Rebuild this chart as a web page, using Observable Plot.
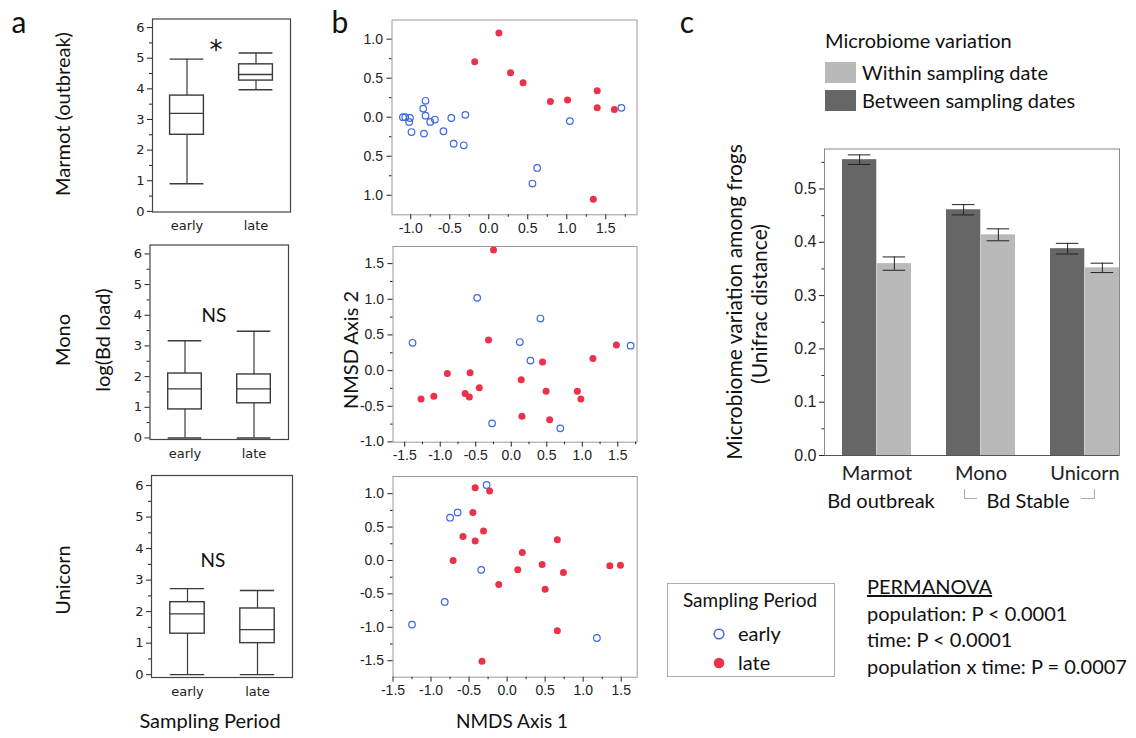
<!DOCTYPE html>
<html><head><meta charset="utf-8">
<script src="https://cdn.jsdelivr.net/npm/d3@7"></script>
<script src="https://cdn.jsdelivr.net/npm/@observablehq/plot@0.6"></script>
<style>
body{margin:0;background:#fff;}
#fig{position:relative;width:1136px;height:738px;overflow:hidden;background:#fff;color:#111;}
.t{position:absolute;white-space:nowrap;line-height:1;}
</style></head><body><div id="fig"></div>
<script>
// ---------- DATA ----------
// Panel a: box plot summaries [low whisker, Q1, median, Q3, high whisker] for early, late
const periods = ["early", "late"];
const marmotBox = [[0.9, 2.5, 3.2, 3.78, 4.97], [3.97, 4.27, 4.47, 4.8, 5.17]];
const monoBox = [[0, 0.93, 1.6, 2.1, 3.17], [0, 1.13, 1.6, 2.07, 3.48]];
const unicornBox = [[0, 1.3, 1.93, 2.3, 2.73], [0, 1.0, 1.43, 2.1, 2.67]];
const boxTicks = [0, 1, 2, 3, 4, 5, 6];
const boxMinorTicks = [0.5, 1.5, 2.5, 3.5, 4.5, 5.5];

// Panel b: NMDS coordinates [axis1, axis2]
const marmotEarly = [[-1.10,0.00],[-1.07,0.00],[-1.01,-0.01],[-1.02,-0.06],[-0.99,-0.19],[-0.84,0.11],[-0.81,0.21],[-0.81,0.02],[-0.83,-0.21],[-0.75,-0.06],[-0.69,-0.03],[-0.58,-0.18],[-0.48,-0.01],[-0.45,-0.34],[-0.32,-0.36],[-0.30,0.03],[0.62,-0.65],[0.56,-0.85],[1.04,-0.05],[1.70,0.12]];
const marmotLate = [[0.13,1.08],[-0.18,0.71],[0.28,0.57],[0.44,0.44],[0.79,0.20],[1.01,0.22],[1.39,0.34],[1.39,0.12],[1.61,0.10],[1.34,-1.05]];
const monoEarly = [[-1.39,0.39],[-0.48,1.02],[0.12,0.40],[0.41,0.73],[0.27,0.14],[1.68,0.35],[-0.27,-0.74],[0.69,-0.81]];
const monoLate = [[-0.25,1.69],[-0.32,0.43],[-0.90,-0.04],[-0.58,-0.03],[-1.27,-0.40],[-1.09,-0.36],[-0.65,-0.32],[-0.59,-0.37],[-0.45,-0.24],[0.14,-0.13],[0.44,0.12],[0.49,-0.29],[0.15,-0.64],[0.54,-0.69],[0.93,-0.29],[0.98,-0.40],[1.15,0.17],[1.48,0.36]];
const unicornEarly = [[-0.27,1.13],[-0.65,0.72],[-0.75,0.64],[-0.34,-0.14],[-0.82,-0.62],[-1.25,-0.96],[1.18,-1.16]];
const unicornLate = [[-0.42,1.09],[-0.23,1.04],[-0.45,0.72],[-0.31,0.44],[-0.58,0.36],[-0.42,0.29],[-0.71,0.00],[-0.11,-0.36],[0.14,-0.14],[0.20,0.12],[0.46,-0.06],[0.50,-0.43],[0.66,0.31],[0.74,-0.18],[0.66,-1.05],[1.35,-0.08],[1.49,-0.07],[-0.33,-1.51]];
const nmdsTicksA = [-1.0, -0.5, 0, 0.5, 1.0, 1.5];
const nmdsTicksB = [-1.5, -1.0, -0.5, 0, 0.5, 1.0, 1.5];
const nmdsMinorA = [-1.25, -0.75, -0.25, 0.25, 0.75, 1.25, 1.75];
const nmdsMinorB = [-1.75, -1.25, -0.75, -0.25, 0.25, 0.75, 1.25, 1.75];
const nmdsY1Ticks = [-1.0, -0.5, 0, 0.5, 1.0];
const nmdsY2Ticks = [-1.0, -0.5, 0, 0.5, 1.0, 1.5];
const nmdsY3Ticks = [-1.5, -1.0, -0.5, 0, 0.5, 1.0];

// Panel c: mean Unifrac distance and SE
const populations = ["Marmot", "Mono", "Unicorn"];
const betweenMean = [0.555, 0.461, 0.388];
const betweenErr = [0.009, 0.0097, 0.010];
const withinMean = [0.360, 0.414, 0.352];
const withinErr = [0.0125, 0.0112, 0.0088];
const barTicks = [0, 0.1, 0.2, 0.3, 0.4, 0.5];
const barMinorTicks = [0.05, 0.15, 0.25, 0.35, 0.45, 0.55];

// ---------- LAYOUT ----------
const W = 1136, H = 738;
const fig = document.getElementById("fig");

function place(opts, [L, R, T, B], style) {
  const svg = Plot.plot({
    width: W, height: H,
    marginLeft: L, marginRight: W - R, marginTop: T, marginBottom: H - B,
    style: Object.assign({background: "transparent", overflow: "visible"}, style),
    ...opts
  });
  svg.style.position = "absolute";
  svg.style.left = "0px";
  svg.style.top = "0px";
  fig.appendChild(svg);
}

function txt(s, x, y, o = {}) {
  const d = document.createElement("div");
  d.className = "t";
  d.textContent = s;
  d.style.fontSize = (o.size || 20) + "px";
  d.style.fontFamily = o.family || "Lato, sans-serif";
  d.style.left = x + "px";
  d.style.top = y + "px";
  if (o.weight) d.style.fontWeight = o.weight;
  if (o.underline) d.style.textDecoration = "underline";
  const ax = o.anchor === "start" ? "0" : "-50%";
  d.style.transform = `translate(${ax},-50%)` + (o.rotate ? " rotate(-90deg)" : "");
  fig.appendChild(d);
  return d;
}

// ---------- PANEL A ----------
function boxPanel(stats, frame, ydom, inset) {
  const rows = periods.map((p, i) => ({period: p, low: stats[i][0], q1: stats[i][1], med: stats[i][2], q3: stats[i][3], high: stats[i][4]}));
  const s = "#3a3a3a";
  const ins = {insetLeft: inset, insetRight: inset};
  place({
    x: {domain: periods, padding: 0},
    y: {domain: ydom},
    marks: [
      Plot.frame({stroke: "#444", strokeWidth: 1.2}),
      Plot.ruleX(rows, {x: "period", y1: "low", y2: "high", stroke: s, strokeWidth: 1.2}),
      Plot.tickY(rows, {x: "period", y: "low", ...ins, stroke: s, strokeWidth: 1.4}),
      Plot.tickY(rows, {x: "period", y: "high", ...ins, stroke: s, strokeWidth: 1.4}),
      Plot.barY(rows, {x: "period", y1: "q1", y2: "q3", ...ins, fill: "white", stroke: s, strokeWidth: 1.4}),
      Plot.tickY(rows, {x: "period", y: "med", ...ins, stroke: s, strokeWidth: 1.4}),
      Plot.axisY({ticks: boxTicks, tickSize: 5, tickPadding: 3, tickFormat: d => String(d), label: null}),
      Plot.axisY({ticks: boxMinorTicks, tickSize: 3, tickFormat: () => "", label: null}),
      Plot.axisX({tickSize: 0, tickPadding: 9, label: null})
    ]
  }, frame, {fontFamily: "'DejaVu Sans', sans-serif", fontSize: "13px", color: "#222"});
}
boxPanel(marmotBox, [152, 290, 18.5, 211.5], [-0.02, 6.28], 17.6);
boxPanel(monoBox, [149.5, 288, 244.5, 439], [-0.05, 6.29], 17.7);
boxPanel(unicornBox, [151, 292, 475, 677], [-0.09, 6.32], 17.8);

// ---------- PANEL B ----------
const fmt1 = d => d.toFixed(1);
function scatter(early, late, frame, xdom, ydom, xt, xm, yt, ym, yfmt) {
  place({
    x: {domain: xdom},
    y: {domain: ydom},
    marks: [
      Plot.frame({stroke: "#9a9a9a"}),
      Plot.dot(late, {x: d => d[0], y: d => d[1], r: 3.5, fill: "#ec3249", stroke: "none"}),
      Plot.dot(early, {x: d => d[0], y: d => d[1], r: 3.3, fill: "none", stroke: "#3d67e6", strokeWidth: 1.2}),
      Plot.axisX({ticks: xt, tickSize: 5, tickPadding: 3, tickFormat: fmt1, label: null}),
      Plot.axisX({ticks: xm, tickSize: 2.5, tickFormat: () => "", label: null}),
      Plot.axisY({ticks: yt, tickSize: 5, tickPadding: 4, tickFormat: yfmt, label: null}),
      Plot.axisY({ticks: ym, tickSize: 2.5, tickFormat: () => "", label: null})
    ]
  }, frame, {fontFamily: "'Liberation Sans', Arial, sans-serif", fontSize: "14px", color: "#222"});
}
scatter(marmotEarly, marmotLate, [391.5, 636.5, 19.5, 214.3], [-1.24, 1.90], [-1.25, 1.245],
  nmdsTicksA, nmdsMinorA.filter(v => v > -1.24 && v < 1.9), nmdsY1Ticks, [-0.75, -0.25, 0.25, 0.75], d => Math.abs(d).toFixed(1));
scatter(monoEarly, monoLate, [392.5, 636.5, 246, 441.7], [-1.665, 1.77], [-1.004, 1.74],
  nmdsTicksB, nmdsMinorB.filter(v => v > -1.665 && v < 1.77), nmdsY2Ticks, [-0.75, -0.25, 0.25, 0.75, 1.25], fmt1);
scatter(unicornEarly, unicornLate, [392.5, 636.7, 476, 676.7], [-1.5, 1.71], [-1.747, 1.257],
  nmdsTicksB, nmdsMinorB.filter(v => v > -1.5 && v < 1.71), nmdsY3Ticks, [-1.25, -0.75, -0.25, 0.25, 0.75], fmt1);

// ---------- PANEL C ----------
const cFrame = [824, 1119, 148.5, 455];
const pIn = 0.335, pOut = 0.08;
const step = (cFrame[1] - cFrame[0]) / (populations.length - pIn + 2 * pOut);
const bw = step * (1 - pIn);
const cap = 23;
const between = populations.map((g, i) => ({group: g, mean: betweenMean[i], err: betweenErr[i]}));
const within = populations.map((g, i) => ({group: g, mean: withinMean[i], err: withinErr[i]}));
const errMarks = (rows, side) => {
  const c = side < 0 ? bw / 4 : 3 * bw / 4;
  const ins = {insetLeft: c - cap / 2, insetRight: bw - c - cap / 2};
  return [
    Plot.ruleX(rows, {x: "group", y1: d => d.mean - d.err, y2: d => d.mean + d.err, dx: side * bw / 4, stroke: "#222", strokeWidth: 1}),
    Plot.tickY(rows, {x: "group", y: d => d.mean - d.err, ...ins, stroke: "#222", strokeWidth: 1}),
    Plot.tickY(rows, {x: "group", y: d => d.mean + d.err, ...ins, stroke: "#222", strokeWidth: 1})
  ];
};
place({
  x: {domain: populations, paddingInner: pIn, paddingOuter: pOut, align: 1},
  y: {domain: [0, 0.575]},
  marks: [
    Plot.barY(between, {x: "group", y: "mean", insetRight: bw / 2, fill: "#666666"}),
    Plot.barY(within, {x: "group", y: "mean", insetLeft: bw / 2, fill: "#b9b9b9"}),
    ...errMarks(between, -1),
    ...errMarks(within, 1),
    Plot.frame({stroke: "#8a8a8a"}),
    Plot.ruleY([0], {stroke: "#555"}),
    Plot.axisY({ticks: barTicks, tickSize: 5, tickPadding: 3, tickFormat: fmt1, label: null}),
    Plot.axisY({ticks: barMinorTicks.filter(v => v < 0.575), tickSize: 2.5, tickFormat: () => "", label: null}),
    Plot.axisX({tickSize: 0, tickPadding: 10, fontSize: 20, fontFamily: "Lato, sans-serif", label: null})
  ]
}, cFrame, {fontFamily: "'Liberation Sans', Arial, sans-serif", fontSize: "16px", color: "#222"});

// ---------- TEXT ----------
txt("a", 19, 21, {size: 30});
txt("b", 340, 21, {size: 30});
txt("c", 687, 21, {size: 30});

txt("Marmot (outbreak)", 62, 114, {rotate: true});
txt("Mono", 62, 340, {rotate: true});
txt("log(Bd load)", 102, 340, {rotate: true});
txt("Unicorn", 62, 580, {rotate: true});
txt("Sampling Period", 210, 720);
txt("*", 216, 50, {size: 26, family: "'DejaVu Sans', sans-serif"});
txt("NS", 214, 314, {size: 19});
txt("NS", 213, 559, {size: 19});

txt("NMSD Axis 2", 350, 350, {rotate: true, size: 20});
txt("NMDS Axis 1", 512, 720, {size: 19});

txt("Microbiome variation among frogs", 733, 302, {rotate: true, size: 21});
txt("(Unifrac distance)", 758, 304, {rotate: true, size: 21});
txt("Bd outbreak", 881, 500);
txt("Bd Stable", 1028, 500);

// legend c
txt("Microbiome variation", 825, 40, {anchor: "start"});
txt("Within sampling date", 862, 72, {anchor: "start"});
txt("Between sampling dates", 862, 100, {anchor: "start"});
function box(x, y, w, h, css) {
  const d = document.createElement("div");
  d.style.position = "absolute";
  d.style.left = x + "px"; d.style.top = y + "px";
  d.style.width = w + "px"; d.style.height = h + "px";
  d.style.boxSizing = "border-box";
  Object.assign(d.style, css);
  fig.appendChild(d);
}
box(825, 62, 31, 21, {background: "#b9b9b9"});
box(825, 90, 31, 21, {background: "#666666"});
// brackets under Bd Stable
box(964, 489, 13, 10, {borderLeft: "1.5px solid #aaa", borderBottom: "1.5px solid #aaa"});
box(1081, 489, 14, 10, {borderRight: "1.5px solid #aaa", borderBottom: "1.5px solid #aaa"});

// legend b
box(667, 583, 168, 94, {border: "1px solid #aaa"});
txt("Sampling Period", 750, 599, {size: 19});
const ns = "http://www.w3.org/2000/svg";
const lg = document.createElementNS(ns, "svg");
lg.setAttribute("width", 20); lg.setAttribute("height", 50);
lg.style.position = "absolute"; lg.style.left = "709px"; lg.style.top = "622px";
lg.innerHTML = '<circle cx="10" cy="12" r="4.8" fill="none" stroke="#3d67e6" stroke-width="1.5"/><circle cx="10" cy="41" r="5.3" fill="#ec3249"/>';
fig.appendChild(lg);
txt("early", 738, 633, {anchor: "start", size: 20});
txt("late", 738, 662, {anchor: "start", size: 20});

// PERMANOVA
txt("PERMANOVA", 867, 586, {anchor: "start", underline: true});
txt("population: P < 0.0001", 867, 613, {anchor: "start"});
txt("time: P < 0.0001", 867, 639, {anchor: "start"});
txt("population x time: P = 0.0007", 867, 666, {anchor: "start"});
</script></body></html>
